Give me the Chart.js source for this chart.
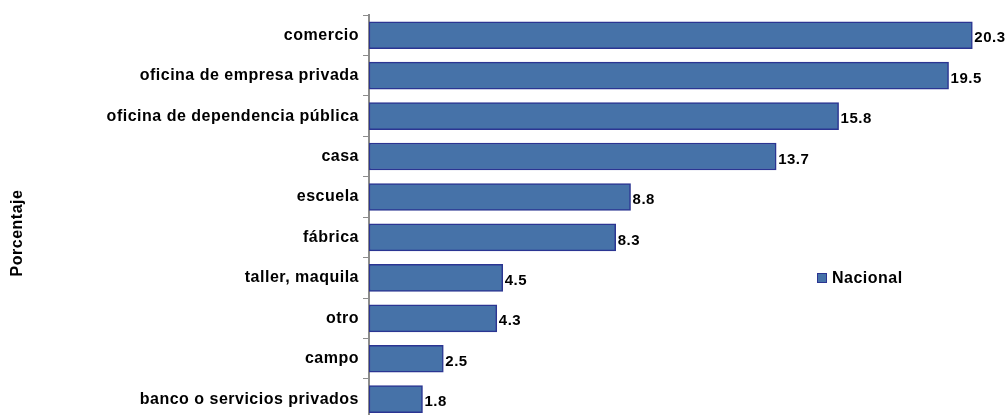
<!DOCTYPE html>
<html>
<head>
<meta charset="utf-8">
<script src="https://cdn.jsdelivr.net/npm/chart.js@4/dist/chart.umd.min.js"></script>
<style>
    html, body { margin: 0; padding: 0; background: #fff; overflow: hidden; }
    #wrap { position: relative; width: 1008px; height: 433px; }
</style>
</head>
<body>
<div id="wrap"><canvas id="lugar-chart"></canvas></div>
<script>
const categorias = [
    'comercio',
    'oficina de empresa privada',
    'oficina de dependencia pública',
    'casa',
    'escuela',
    'fábrica',
    'taller, maquila',
    'otro',
    'campo',
    'banco o servicios privados',
];
const nacional = [20.3, 19.5, 15.8, 13.7, 8.8, 8.3, 4.5, 4.3, 2.5, 1.8];
const serieLabel = 'Nacional';
const ejeTitulo = 'Porcentaje';

const fontFamily = 'Arial, "Liberation Sans", sans-serif';
Chart.defaults.font.family = fontFamily;
Chart.defaults.color = '#000';

const barFill = '#4672a8';
const barBorder = '#2b3592';

// espaciado de letras como en el original
const spacing = {
    id: 'spacing',
    beforeLayout(chart) {
        chart.ctx.letterSpacing = '0.5px';
    },
    beforeDraw(chart) {
        chart.ctx.letterSpacing = '0.5px';
    },
};

// valores a la derecha de cada barra
const valueLabels = {
    id: 'valueLabels',
    afterDatasetsDraw(chart) {
        const ctx = chart.ctx;
        const meta = chart.getDatasetMeta(0);
        ctx.save();
        ctx.font = 'bold 15px ' + fontFamily;
        ctx.fillStyle = '#000';
        ctx.textAlign = 'left';
        ctx.textBaseline = 'middle';
        meta.data.forEach((bar, i) => {
            ctx.fillText(nacional[i].toFixed(1), bar.x + 2, bar.y + 3);
        });
        ctx.restore();
    },
};

// leyenda dentro del área del gráfico + título del eje
const extras = {
    id: 'extras',
    afterDraw(chart) {
        const ctx = chart.ctx;
        ctx.save();
        ctx.fillStyle = barFill;
        ctx.strokeStyle = barBorder;
        ctx.lineWidth = 1;
        ctx.fillRect(817.5, 273.5, 9, 9);
        ctx.strokeRect(817.5, 273.5, 9, 9);
        ctx.font = 'bold 16px ' + fontFamily;
        ctx.fillStyle = '#000';
        ctx.textBaseline = 'middle';
        ctx.fillText(chart.data.datasets[0].label, 832, 278.5);

        ctx.translate(18, 233);
        ctx.rotate(-Math.PI / 2);
        ctx.textAlign = 'center';
        ctx.fillText(ejeTitulo, 0, 0);
        ctx.restore();
    },
};

new Chart(document.getElementById('lugar-chart'), {
    type: 'bar',
    data: {
        labels: categorias,
        datasets: [
            {
                label: serieLabel,
                data: nacional,
                backgroundColor: barFill,
                borderColor: barBorder,
                borderWidth: 1.5,
                borderSkipped: false,
                barThickness: 27,
            },
        ],
    },
    options: {
        indexAxis: 'y',
        responsive: true,
        maintainAspectRatio: false,
        animation: false,
        layout: { padding: { top: 15, right: 0, bottom: 0, left: 0 } },
        plugins: {
            legend: { display: false },
            tooltip: { enabled: false },
        },
        scales: {
            x: {
                display: false,
                min: 0,
                max: 21.5,
            },
            y: {
                afterFit(scale) {
                    scale.width = 369;
                },
                border: { color: '#8c8c8c', width: 2 },
                grid: {
                    drawOnChartArea: false,
                    drawTicks: true,
                    tickLength: 6,
                    color: '#8c8c8c',
                    offset: true,
                },
                ticks: {
                    padding: 4,
                    font: { size: 16, weight: 'bold' },
                    color: '#000',
                },
            },
        },
    },
    plugins: [spacing, valueLabels, extras],
});
</script>
</body>
</html>
